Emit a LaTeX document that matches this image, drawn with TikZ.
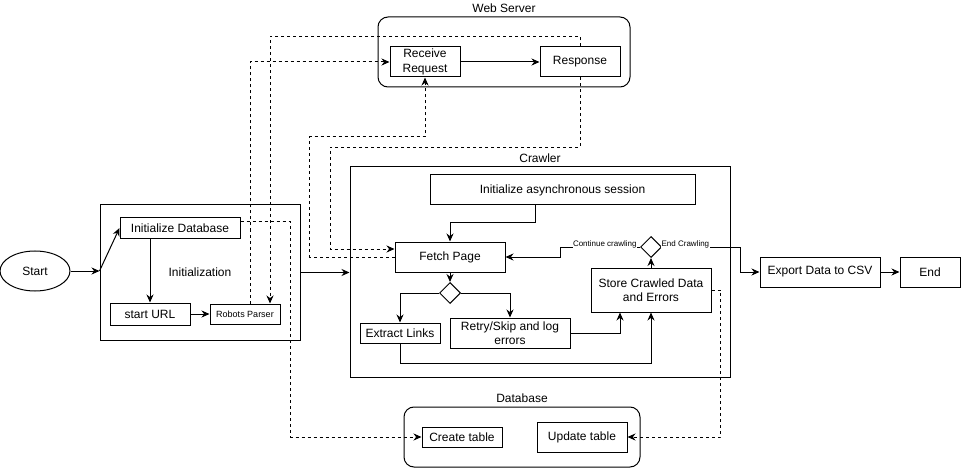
\documentclass[tikz,border=0pt]{standalone}
\usepackage{fontspec}
\setmainfont{Liberation Sans}
\usetikzlibrary{arrows.meta,shapes.geometric}

\begin{document}
\begin{tikzpicture}[x=1pt,y=-1pt,line width=1pt,>={Stealth[length=8pt,width=7pt]},
        font=\fontsize{12}{14.4}\selectfont,
        box/.style={draw,inner sep=0pt,align=center},
        cont/.style={draw,inner sep=0pt},
        wcont/.style={draw,inner sep=0pt,rounded corners=10pt},
        dec/.style={draw,diamond,inner sep=0pt,minimum width=21pt,minimum height=21pt},
        small/.style={font=\fontsize{9}{11}\selectfont},
        lbl/.style={font=\fontsize{8}{9}\selectfont,fill=white,inner sep=0.5pt},
        ref/.style={->,dash pattern=on 3pt off 3pt}]
        \useasboundingbox (0,0) rectangle (962,468);
        \node[cont,minimum width=200pt,minimum height=135pt] (init) at (200,272.5) {Initialization};
        \node[cont,minimum width=380pt,minimum height=210pt,label={above:Crawler}] (crawler) at (540,272) {};
        \node[wcont,minimum width=252pt,minimum height=70pt,label={above:Web Server}] (web) at (504,52) {};
        \node[wcont,minimum width=236pt,minimum height=60pt,label={above:Database}] (db) at (522,437) {};
        \node[draw,ellipse,minimum width=70pt,minimum height=40pt] (start) at (35,271) {Start};
        \node[box,minimum width=120pt,minimum height=20pt] (initdb) at (180,228) {Initialize Database};
        \node[box,minimum width=80pt,minimum height=22pt] (starturl) at (150,314) {start URL};
        \node[box,small,minimum width=70pt,minimum height=20pt] (robots) at (245,314) {Robots Parser};
        \node[box,minimum width=70pt,minimum height=30pt] (receive) at (425,62) {Receive\\Request};
        \node[box,minimum width=80pt,minimum height=30pt] (response) at (580,62) {Response};
        \node[box,minimum width=265pt,minimum height=30pt] (session) at (562.5,190) {Initialize asynchronous session};
        \node[box,minimum width=110pt,minimum height=30pt] (fetch) at (450,257) {Fetch Page};
        \node[dec] (dec1) at (450,293) {};
        \node[box,minimum width=80pt,minimum height=20pt] (extract) at (400,333) {Extract Links};
        \node[box,minimum width=120pt,minimum height=30pt] (retry) at (510,333) {Retry/Skip and log\\errors};
        \node[box,minimum width=120pt,minimum height=44pt] (store) at (651,290) {Store Crawled Data\\and Errors};
        \node[dec] (dec2) at (651,247) {};
        \node[box,minimum width=120pt,minimum height=30pt] (export) at (820,272) {Export Data to CSV};
        \node[box,minimum width=60pt,minimum height=30pt] (end) at (930,272) {End};
        \node[box,minimum width=80pt,minimum height=20pt] (create) at (462,437) {Create table};
        \node[box,minimum width=90pt,minimum height=30pt] (update) at (582,437) {Update table};

        \draw[->] (start) -- (start -| init.west);
        \draw[->] (start -| init.west) -- (initdb.west);
        \draw[->] (initdb.south -| starturl.north) -- (starturl.north);
        \draw[->] (starturl) -- (robots);
        \draw[->] (init.east) -- (init.east -| crawler.west);
        \draw[->] (receive) -- (response);
        \draw[->] ([xshift=-27.5pt]session.south) -- ++(0,17) -| (fetch.north);
        \draw[->] (fetch) -- (dec1);
        \draw[->] (dec1.west) -| (extract.north);
        \draw[->] (dec1.east) -| (retry.north);
        \draw[->] (retry.east) -| ([xshift=-31pt]store.south);
        \draw[->] (extract.south) -- ++(0,20) -| (store.south);
        \draw[->] (store) -- (dec2);
        \draw[->] (dec2.west) -- node[lbl,pos=0.44,yshift=3pt] {Continue crawling} ++(-80,0) |- (fetch.east);
        \draw[->] (dec2.east) -- node[lbl,pos=0.3,yshift=3pt] {End Crawling} ++(78,0) |- (export.west);
        \draw[->] (export) -- (end);

        \draw[ref] ([yshift=6pt]initdb.east) -- ++(50,0) |- (create.west);
        \draw[ref] ([xshift=5pt]robots.north) |- (receive.west);
        \draw[ref] (response.north) -- ++(0,-10) -| ([xshift=25pt]robots.north);
        \draw[ref] (fetch.west) -- ++(-85,0) -- ++(0,-120) -| (receive.south);
        \draw[ref] (response.south) -- ++(0,70) -- ++(-250,0) |- ([yshift=8pt]fetch.west);
        \draw[ref] (store.east) -- ++(9,0) |- (update.east);
\end{tikzpicture}
\end{document}
